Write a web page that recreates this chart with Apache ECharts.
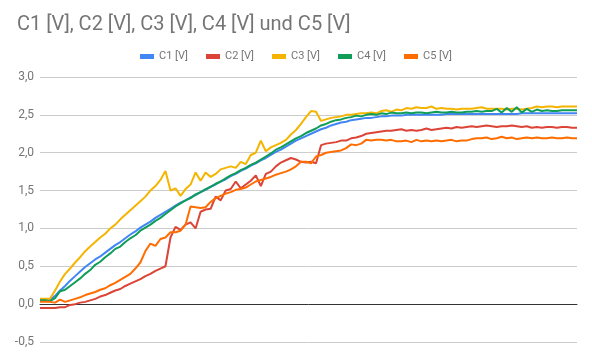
<!DOCTYPE html>
<html>
<head>
<meta charset="utf-8">
<script src="https://cdn.jsdelivr.net/npm/echarts@6/dist/echarts.min.js"></script>
<style>html,body{margin:0;padding:0;background:#fff}#c{width:592px;height:362px}</style>
</head>
<body>
<div id="c"></div>
<script>
var seriesNames = ["C1 [V]", "C2 [V]", "C3 [V]", "C4 [V]", "C5 [V]"];
var yTicks = [-0.5, 0, 0.5, 1, 1.5, 2, 2.5, 3];

var c1 = [0.05,0.05,0.05,0.11,0.18,0.24,0.31,0.37,0.43,0.49,0.54,0.59,0.63,0.68,0.73,0.78,0.82,0.87,0.92,0.96,
1.01,1.05,1.09,1.14,1.18,1.22,1.26,1.30,1.34,1.37,1.41,1.44,1.48,1.51,1.55,1.58,1.62,1.65,1.69,1.72,
1.76,1.79,1.83,1.86,1.90,1.93,1.97,2.01,2.04,2.08,2.12,2.16,2.19,2.22,2.25,2.28,2.31,2.33,2.36,2.38,
2.40,2.41,2.43,2.44,2.45,2.46,2.46,2.47,2.48,2.48,2.49,2.49,2.49,2.50,2.50,2.50,2.50,2.50,2.50,2.50,
2.50,2.51,2.51,2.51,2.51,2.51,2.51,2.51,2.51,2.51,2.51,2.51,2.51,2.51,2.51,2.51,2.52,2.52,2.52,2.52,
2.52,2.52,2.52,2.52,2.52,2.52,2.52,2.52];

var c2 = [-0.05,-0.05,-0.05,-0.05,-0.04,-0.04,-0.01,0.00,0.02,0.03,0.05,0.07,0.10,0.12,0.15,0.18,0.20,0.24,0.27,0.30,
0.33,0.37,0.40,0.44,0.47,0.50,0.88,1.02,0.98,1.05,1.08,1.00,1.22,1.25,1.26,1.42,1.37,1.50,1.52,1.62,
1.53,1.58,1.63,1.70,1.56,1.72,1.75,1.82,1.87,1.90,1.93,1.91,1.88,1.87,1.88,1.86,2.10,2.12,2.13,2.14,
2.16,2.16,2.19,2.20,2.22,2.25,2.26,2.27,2.28,2.29,2.29,2.30,2.31,2.29,2.30,2.29,2.30,2.32,2.30,2.31,
2.32,2.33,2.32,2.34,2.33,2.34,2.35,2.34,2.35,2.36,2.35,2.34,2.35,2.35,2.36,2.35,2.34,2.35,2.33,2.34,
2.33,2.34,2.34,2.33,2.34,2.34,2.33,2.33];

var c3 = [0.07,0.07,0.07,0.18,0.30,0.40,0.47,0.55,0.62,0.70,0.76,0.82,0.88,0.93,1.00,1.05,1.12,1.18,1.24,1.30,
1.36,1.42,1.50,1.56,1.64,1.76,1.50,1.53,1.43,1.52,1.58,1.74,1.63,1.74,1.68,1.72,1.78,1.80,1.82,1.80,
1.88,1.85,1.97,2.00,2.16,2.02,2.07,2.10,2.13,2.17,2.24,2.30,2.38,2.47,2.55,2.54,2.42,2.44,2.46,2.47,
2.48,2.50,2.50,2.51,2.52,2.52,2.53,2.52,2.55,2.56,2.54,2.57,2.56,2.59,2.58,2.60,2.59,2.59,2.61,2.58,
2.59,2.58,2.58,2.57,2.58,2.58,2.58,2.59,2.60,2.58,2.58,2.58,2.58,2.57,2.58,2.58,2.57,2.58,2.59,2.61,
2.60,2.61,2.61,2.60,2.61,2.61,2.61,2.61];

var c4 = [0.05,0.05,0.04,0.08,0.17,0.19,0.24,0.29,0.34,0.40,0.45,0.52,0.56,0.62,0.67,0.73,0.76,0.82,0.87,0.91,
0.97,1.01,1.05,1.10,1.14,1.19,1.24,1.29,1.33,1.37,1.40,1.45,1.48,1.52,1.55,1.59,1.62,1.66,1.70,1.73,
1.77,1.80,1.84,1.87,1.91,1.95,1.99,2.04,2.07,2.11,2.15,2.19,2.22,2.26,2.29,2.32,2.36,2.38,2.41,2.43,
2.44,2.46,2.47,2.49,2.48,2.50,2.51,2.50,2.52,2.51,2.53,2.52,2.52,2.53,2.52,2.53,2.53,2.52,2.53,2.54,
2.53,2.53,2.54,2.53,2.53,2.54,2.54,2.55,2.54,2.55,2.55,2.58,2.53,2.59,2.54,2.60,2.53,2.58,2.54,2.57,
2.55,2.56,2.55,2.55,2.56,2.56,2.56,2.56];

var c5 = [0.03,0.03,0.03,0.02,0.06,0.03,0.05,0.07,0.09,0.12,0.14,0.16,0.19,0.21,0.25,0.28,0.32,0.36,0.40,0.47,
0.55,0.70,0.80,0.77,0.86,0.88,0.95,0.95,0.97,1.05,1.29,1.28,1.27,1.28,1.35,1.40,1.43,1.46,1.48,1.51,
1.52,1.54,1.58,1.62,1.64,1.66,1.68,1.71,1.73,1.75,1.78,1.82,1.88,1.88,1.86,1.95,1.97,2.00,2.01,2.02,
2.03,2.06,2.11,2.10,2.12,2.17,2.16,2.17,2.17,2.16,2.17,2.15,2.15,2.16,2.14,2.17,2.15,2.16,2.15,2.16,
2.15,2.16,2.17,2.15,2.16,2.16,2.18,2.19,2.19,2.20,2.18,2.19,2.21,2.19,2.20,2.18,2.19,2.20,2.19,2.20,
2.19,2.19,2.20,2.19,2.19,2.20,2.19,2.19];

var colors = ["#4285F4", "#DB4437", "#F4B400", "#0F9D58", "#FF6D01"];
var allData = [c1, c2, c3, c4, c5];

function toPairs(arr) { return arr.map(function (v, i) { return [i, v]; }); }

var chart = echarts.init(document.getElementById('c'), null, { renderer: 'canvas' });
chart.setOption({
  animation: false,
  color: colors,
  title: {
    text: 'C1 [V], C2 [V], C3 [V], C4 [V] und C5 [V]',
    left: 12, top: 10,
    textStyle: { fontFamily: 'Roboto', fontSize: 20, fontWeight: 'normal', color: '#757575' }
  },
  legend: {
    data: seriesNames,
    left: 'center', top: 46,
    itemWidth: 14, itemHeight: 5, itemGap: 18,
    icon: 'rect',
    textStyle: { fontFamily: 'Roboto', fontSize: 11, color: '#757575' }
  },
  grid: { left: 40, right: 15, top: 77, bottom: 20, containLabel: false },
  xAxis: {
    type: 'value', min: 0, max: 107,
    axisLabel: { show: false }, axisTick: { show: false }, splitLine: { show: false },
    axisLine: { show: true, onZero: true, lineStyle: { color: '#333', width: 1 } }
  },
  yAxis: {
    type: 'value', min: yTicks[0], max: yTicks[yTicks.length - 1], interval: 0.5,
    axisLine: { show: false }, axisTick: { show: false },
    splitLine: { lineStyle: { color: '#cccccc' } },
    axisLabel: {
      fontFamily: 'Roboto', fontSize: 12, color: '#757575', margin: 6,
      formatter: function (v) { return v.toFixed(1).replace('.', ','); }
    }
  },
  series: allData.map(function (d, k) {
    return {
      name: seriesNames[k], type: 'line', data: toPairs(d),
      showSymbol: false, symbol: 'none', smooth: false,
      lineStyle: { width: 2, color: colors[k] }
    };
  })
});
</script>
</body>
</html>
